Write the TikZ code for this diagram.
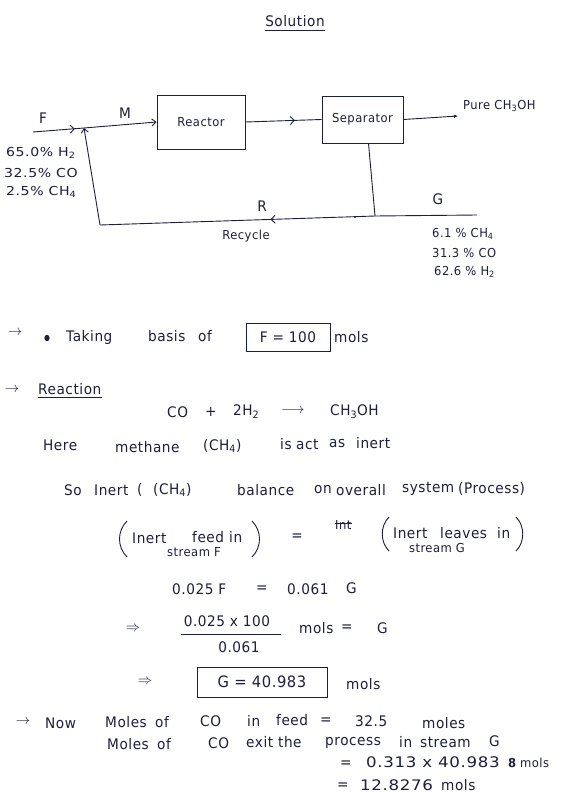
\documentclass[tikz,border=0pt]{standalone}
\usepackage{fontspec}
\setmainfont{DejaVu Sans}[LetterSpace=4]
\usetikzlibrary{arrows.meta,decorations.markings}
\definecolor{ink}{RGB}{28,30,66}
\newcommand{\hw}[1]{\scalebox{1.05}[1.12]{#1}}
\newcommand{\hwide}[1]{\scalebox{1.28}[1.12]{#1}}
\begin{document}
\begin{tikzpicture}[x=1pt,y=-1pt,
  txt/.style={anchor=west, inner sep=0pt, text=ink, font=\fontsize{13}{15}\selectfont},
  ctxt/.style={txt, anchor=center},
  sm/.style={txt, font=\fontsize{11}{13}\selectfont},
  csm/.style={sm, anchor=center},
  blk/.style={draw=ink, line width=0.9pt, inner sep=0pt, text=ink, font=\fontsize{11}{13}\selectfont},
  flow/.style={draw=ink, line width=0.9pt},
  barb/.style={-{Straight Barb[length=4pt,width=7pt]}},
  midarr/.style={postaction={decorate}, decoration={markings, mark=at position #1 with {\arrow{Straight Barb[length=4pt,width=8pt]}}}}
]
\useasboundingbox[fill=white] (0,0) rectangle (560,797);

% title
\node[ctxt] (title) at (295,21) {\hw{Solution}};
\draw[flow] ([yshift=-4pt]title.south west) -- ([yshift=-4pt]title.south east);

% ---------- process diagram ----------
\node[blk, minimum width=88pt, minimum height=54pt] (reac) at (201,122) {\hw{Reactor}};
\node[blk, minimum width=81pt, minimum height=47pt] (sep) at (362.5,119.5) {\hw{Separator}};
\coordinate (fin) at (33,132);
\coordinate (mix) at (84,128);
\coordinate (prod) at (458,116);
\coordinate (split) at (375,216);
\coordinate (gout) at (477,215);
\coordinate (rc) at (100,225);

\draw[flow, midarr=0.82] (fin) -- (mix);
\draw[flow, barb] (mix) -- (reac.west);
\draw[flow, midarr=0.65] (reac.east) -- (sep.west);
\draw[flow, -{Latex[length=4pt,width=3.5pt]}] (sep.east) -- (prod);
\draw[flow] ([xshift=6pt]sep.south) -- (split);
\draw[flow] (split) -- (gout);
\draw[flow, midarr=0.38] (split) -- (rc);
\draw[flow, barb] (rc) -- (mix);
\fill[ink] (355,217) circle (1.2pt);

\node[ctxt] (lF) at (43,118) {\hw{F}};
\node[ctxt] (lM) at (125,113) {\hw{M}};
\node[ctxt] (lR) at (262,206) {\hw{R}};
\node[ctxt] (lG) at (438,199) {\hw{G}};
\node[csm] (lrec) at (246,236) {\hw{Recycle}};
\node[sm] (lpure) at (463,106) {\hw{Pure CH\textsubscript{3}OH}};

\node[sm] (f1) at (6,153) {\hwide{65.0\% H\textsubscript{2}}};
\node[sm] (f2) at (4,173) {\hwide{32.5\% CO}};
\node[sm] (f3) at (6,192) {\hwide{2.5\% CH\textsubscript{4}}};
\node[sm] (g1) at (432,234) {\hw{6.1 \% CH\textsubscript{4}}};
\node[sm] (g2) at (432,253) {\hw{31.3 \% CO}};
\node[sm] (g3) at (434,272) {\hw{62.6 \% H\textsubscript{2}}};

% ---------- basis ----------
\node[ctxt, font=\fontsize{15}{17}\selectfont] (a1) at (15,333) {$\rightarrow$};
\fill[ink] (47,338) ellipse (2.6pt and 3.2pt);
\node[txt] (t1) at (66,337) {\hw{Taking}};
\node[txt] (t2) at (148,336) {\hw{basis}};
\node[txt] (t3) at (198,336) {\hw{of}};
\node[blk, minimum width=84pt, minimum height=28pt, font=\fontsize{13}{15}\selectfont] (fbox) at (288,337) {\hw{F = 100}};
\node[txt] (t4) at (334,337) {\hw{mols}};

% ---------- reaction ----------
\node[ctxt, font=\fontsize{15}{17}\selectfont] (a2) at (12,390) {$\rightarrow$};
\node[txt] (rx) at (38,389) {\hw{Reaction}};
\draw[flow] ([yshift=-3pt]rx.south west) -- ([yshift=-3pt]rx.south east);
\node[txt] (r1) at (167,412) {\hw{CO}};
\node[txt] (r2) at (205,412) {\hw{+}};
\node[txt] (r3) at (233,412) {\hw{2H\textsubscript{2}}};
\node[txt, font=\fontsize{14}{16}\selectfont] (r4) at (281,411) {$\longrightarrow$};
\node[txt] (r5) at (330,412) {\hw{CH\textsubscript{3}OH}};

\node[txt] (h1) at (43,445) {\hw{Here}};
\node[txt] (h2) at (115,447) {\hw{methane}};
\node[txt] (h3) at (203,446) {\hw{(CH\textsubscript{4})}};
\node[txt] (h4) at (280,444) {\hw{is}};
\node[txt] (h5) at (296,444) {\hw{act}};
\node[txt] (h6) at (329,444) {\hw{as}};
\node[txt] (h7) at (356,443) {\hw{inert}};

\node[txt] (s1) at (64,490) {\hw{So}};
\node[txt] (s2) at (94,490) {\hw{Inert}};
\node[txt] (s3) at (137,490) {\hw{(}};
\node[txt] (s3b) at (153,490) {\hw{(CH\textsubscript{4})}};
\node[txt] (s4) at (237,490) {\hw{balance}};
\node[txt] (s5) at (314,490) {\hw{on}};
\node[txt] (s6) at (336,490) {\hw{overall}};
\node[txt] (s7) at (402,489) {\hw{system}};
\node[txt] (s8) at (458,489) {\hw{(Process)}};

% ---------- inert balance ----------
\draw[flow] (127,521) .. controls (117,531) and (117,547) .. (127,557);
\node[txt] (i1) at (132,538) {\hw{Inert}};
\node[txt] (i2) at (192,537) {\hw{feed}};
\node[txt] (i3) at (229,537) {\hw{in}};
\node[csm] (i4) at (194,552) {\hw{stream F}};
\draw[flow] (252,521) .. controls (262,531) and (262,547) .. (252,557);
\node[ctxt] (ieq) at (297,537) {\hw{=}};
\node[sm] (istr) at (335,525) {\hw{Int}};
\draw[flow] ([yshift=2pt]istr.west) -- ([yshift=2pt]istr.east);
\draw[flow] (389,517) .. controls (380,526) and (380,542) .. (389,551);
\node[txt] (j1) at (393,533) {\hw{Inert}};
\node[txt] (j2) at (440,533) {\hw{leaves}};
\node[txt] (j3) at (497,533) {\hw{in}};
\node[csm] (j4) at (437,548) {\hw{stream G}};
\draw[flow] (516,517) .. controls (525,526) and (525,542) .. (516,551);

% ---------- calculation ----------
\node[txt] (c1) at (172,589) {\hw{0.025 F}};
\node[txt] (c2) at (256,589) {\hw{=}};
\node[txt] (c3) at (287,589) {\hw{0.061}};
\node[txt] (c4) at (346,588) {\hw{G}};

\node[ctxt, font=\fontsize{15}{17}\selectfont] (d0) at (133,629) {$\Rightarrow$};
\node[ctxt] (dn) at (227,621) {\hw{0.025 x 100}};
\draw[flow] (181,634) -- (281,634);
\node[ctxt] (dd) at (239,647) {\hw{0.061}};
\node[txt] (d1) at (299,628) {\hw{mols}};
\node[txt] (d2) at (341,628) {\hw{=}};
\node[txt] (d3) at (377,628) {\hw{G}};

\node[ctxt, font=\fontsize{15}{17}\selectfont] (e0) at (145,682) {$\Rightarrow$};
\node[blk, minimum width=130pt, minimum height=30pt, font=\fontsize{14}{16}\selectfont] (gbox) at (262,682) {\hw{G = 40.983}};
\node[txt] (e1) at (346,684) {\hw{mols}};

% ---------- CO balance ----------
\node[ctxt, font=\fontsize{15}{17}\selectfont] (n0) at (23,722) {$\rightarrow$};
\node[txt] (n1) at (45,723) {\hw{Now}};
\node[txt] (m1) at (105,722) {\hw{Moles}};
\node[txt] (m2) at (155,722) {\hw{of}};
\node[txt] (m3) at (200,721) {\hw{CO}};
\node[txt] (m4) at (247,721) {\hw{in}};
\node[txt] (m5) at (276,720) {\hw{feed}};
\node[txt] (m6) at (320,721) {\hw{=}};
\node[txt] (m7) at (355,721) {\hw{32.5}};
\node[txt] (m8) at (422,723) {\hw{moles}};

\node[txt] (o1) at (107,744) {\hw{Moles}};
\node[txt] (o2) at (157,744) {\hw{of}};
\node[txt] (o3) at (208,743) {\hw{CO}};
\node[txt] (o4) at (246,742) {\hw{exit the}};
\node[txt] (o5) at (325,743) {\hw{process}};
\node[txt] (o6) at (399,742) {\hw{in}};
\node[txt] (o7) at (420,742) {\hw{stream}};
\node[txt] (o8) at (489,741) {\hw{G}};

\node[txt] (p0) at (340,764) {\hw{=}};
\node[txt] (p1) at (366,762) {\hwide{0.313 x 40.983}};
\node[sm] (p2) at (508,763) {\hw{\textbf{8}}};
\node[sm] (p3) at (520,763) {\hw{mols}};

\node[txt] (q0) at (337,786) {\hw{=}};
\node[txt] (q1) at (360,785) {\hwide{12.8276}};
\node[txt] (q2) at (441,785) {\hw{mols}};
\end{tikzpicture}
\end{document}
